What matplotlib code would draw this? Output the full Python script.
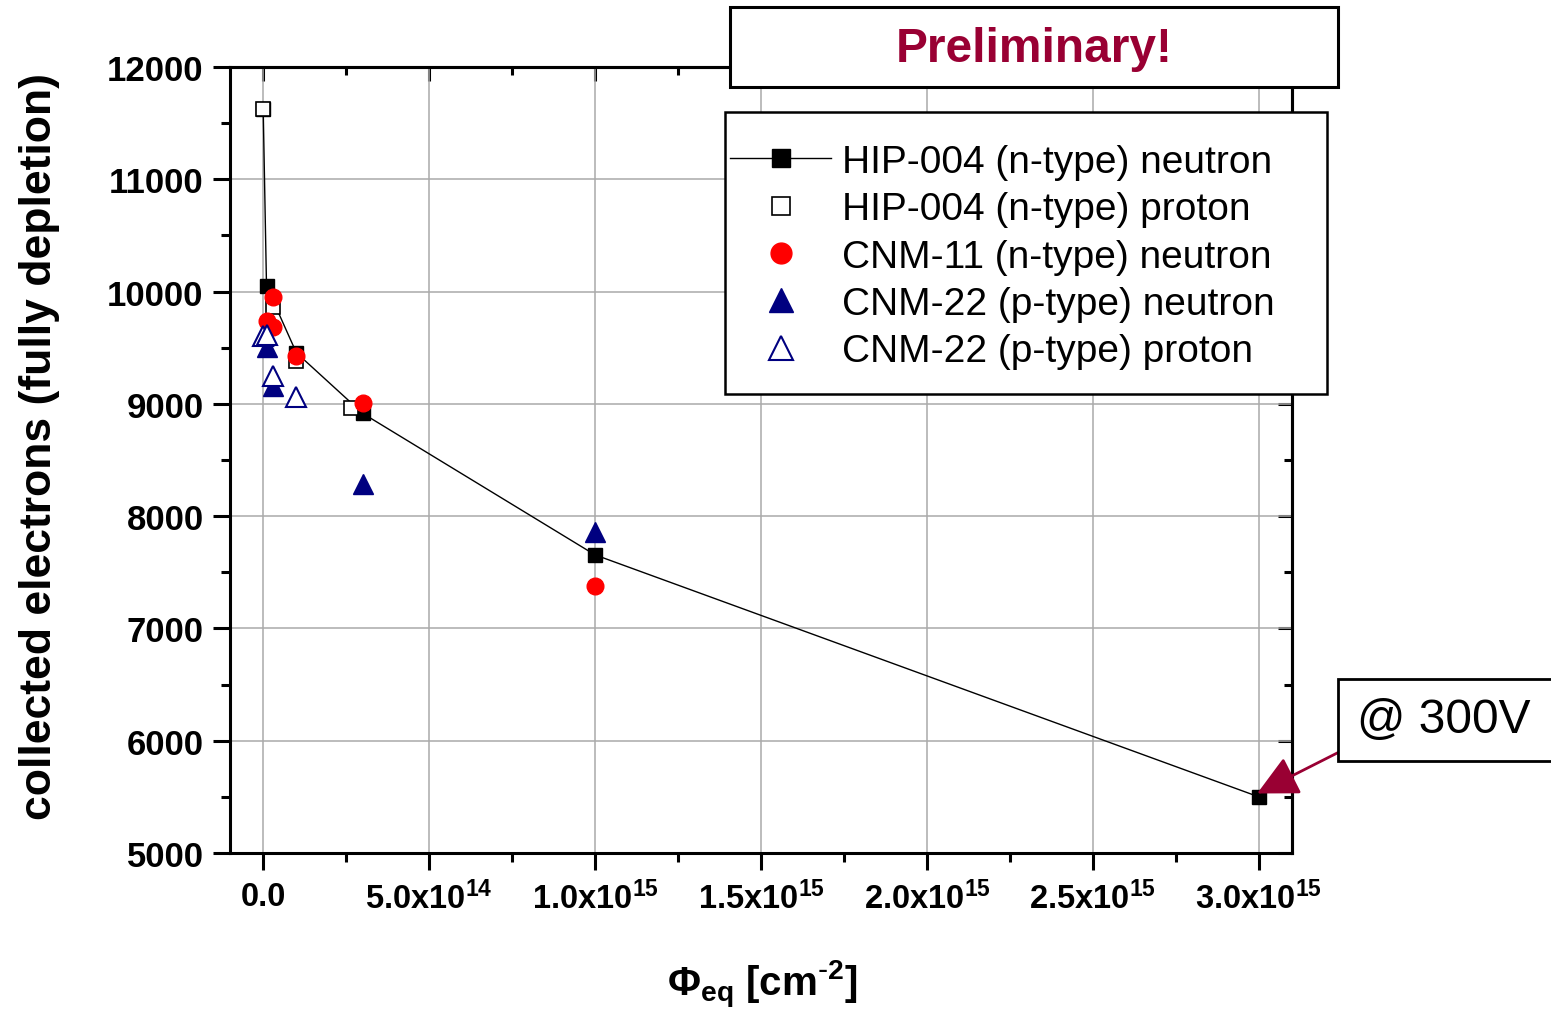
import matplotlib

matplotlib.use('Agg')
import matplotlib.pyplot as plt
from matplotlib.patches import Rectangle
from matplotlib.ticker import MultipleLocator

plt.rcParams['font.family'] = ['Liberation Sans', 'DejaVu Sans']
plt.rcParams['mathtext.default'] = 'regular'

# HIP-004 (n-type), neutron irradiated (joined by a line)
hip_n_fluence = [0, 1e13, 1e14, 3e14, 1e15, 3e15]
hip_n_charge = [11630, 10050, 9455, 8915, 7655, 5500]

# HIP-004 (n-type), proton irradiated
hip_p_fluence = [0, 3e13, 1e14, 2.65e14]
hip_p_charge = [11630, 9866, 9380, 8960]

# CNM-11 (n-type), neutron irradiated
cnm11_n_fluence = [1e13, 3e13, 3e13, 1e14, 3e14, 1e15]
cnm11_n_charge = [9735, 9950, 9682, 9430, 9008, 7378]

# CNM-22 (p-type), neutron irradiated
cnm22_n_fluence = [1e13, 3e13, 3e14, 1e15]
cnm22_n_charge = [9505, 9155, 8285, 7862]

# CNM-22 (p-type), proton irradiated
cnm22_p_fluence = [0, 1e13, 3e13, 1e14]
cnm22_p_charge = [9600, 9615, 9245, 9060]

x_ticks = [0, 5e14, 1e15, 1.5e15, 2e15, 2.5e15, 3e15]
x_tick_labels = ['0.0', '5.0x10$^{14}$', '1.0x10$^{15}$', '1.5x10$^{15}$',
                 '2.0x10$^{15}$', '2.5x10$^{15}$', '3.0x10$^{15}$']
y_ticks = [5000, 6000, 7000, 8000, 9000, 10000, 11000, 12000]

W, H = 1551, 1020
fig = plt.figure(figsize=(W / 100, H / 100), dpi=100)
ax = fig.add_axes([230 / W, 1 - 854 / H, (1292 - 230) / W, (854 - 68) / H])

ax.plot(hip_n_fluence, hip_n_charge, color='black', lw=1.0, marker='s',
        markersize=10, markerfacecolor='black', markeredgecolor='black',
        label='HIP-004 (n-type) neutron', zorder=3)
ax.plot(hip_p_fluence, hip_p_charge, ls='none', marker='s', markersize=10,
        markerfacecolor='white', markeredgecolor='black', markeredgewidth=1.2,
        label='HIP-004 (n-type) proton', zorder=4)
ax.plot(cnm11_n_fluence, cnm11_n_charge, ls='none', marker='o', markersize=12,
        markerfacecolor='red', markeredgecolor='red',
        label='CNM-11 (n-type) neutron', zorder=5)
ax.plot(cnm22_n_fluence, cnm22_n_charge, ls='none', marker='^', markersize=14,
        markerfacecolor='#000080', markeredgecolor='#000080',
        label='CNM-22 (p-type) neutron', zorder=5)
ax.plot(cnm22_p_fluence, cnm22_p_charge, ls='none', marker='^', markersize=14,
        markerfacecolor='white', markeredgecolor='#000080', markeredgewidth=1.5,
        label='CNM-22 (p-type) proton', zorder=5)

ax.set_xlim(-1e14, 3.1e15)
ax.set_ylim(5000, 12000)
ax.set_xticks(x_ticks)
ax.set_xticklabels(x_tick_labels)
ax.set_yticks(y_ticks)
ax.xaxis.set_minor_locator(MultipleLocator(2.5e14))
ax.yaxis.set_minor_locator(MultipleLocator(500))
ax.grid(True, which='major', color='#aaaaaa', lw=1.1)
ax.set_axisbelow(True)

for s in ax.spines.values():
    s.set_linewidth(2.2)
ax.tick_params(which='major', direction='out', length=12, width=2.2, pad=8)
ax.tick_params(which='minor', direction='out', length=6.5, width=2.2)
ax.tick_params(axis='x', labelsize=23.5)
ax.tick_params(axis='y', labelsize=25, pad=7)
for lab in ax.get_xticklabels() + ax.get_yticklabels():
    lab.set_fontweight('bold')

# top and right ticks point inwards
top = ax.secondary_xaxis('top')
top.set_xticks(x_ticks)
top.xaxis.set_minor_locator(MultipleLocator(2.5e14))
top.tick_params(which='major', direction='in', length=10, width=2.2, labeltop=False)
top.tick_params(which='minor', direction='in', length=6, width=2.2)
right = ax.secondary_yaxis('right')
right.set_yticks(y_ticks)
right.yaxis.set_minor_locator(MultipleLocator(500))
right.tick_params(which='major', direction='in', length=10, width=2.2, labelright=False)
right.tick_params(which='minor', direction='in', length=6, width=2.2)
for sec in (top, right):
    for s in sec.spines.values():
        s.set_linewidth(2.2)

fig.text(40 / W, 1 - 447 / H, 'collected electrons (fully depletion)',
         rotation=90, ha='center', va='center', fontsize=32, fontweight='bold')
fig.text(762 / W, 1 - 985 / H, r'$\Phi_{eq}$ [cm$^{\text{-}2}$]',
         ha='center', va='center', fontsize=29, fontweight='bold')

# legend box drawn separately so its padding can be set freely
fig.patches.append(Rectangle((725 / W, 1 - 395 / H), 602 / W, 282 / H,
                             transform=fig.transFigure, facecolor='white',
                             edgecolor='black', lw=1.8, zorder=20))
handles, labels = ax.get_legend_handles_labels()
leg = fig.legend(handles, labels, loc='upper left',
                 bbox_to_anchor=(730 / W, 1 - 145 / H), fontsize=28,
                 frameon=False, markerscale=1.25, handlelength=2.6,
                 handletextpad=0.28, labelspacing=0.29, borderpad=0,
                 borderaxespad=0)
leg.set_zorder(21)

# "Preliminary!" banner
fig.patches.append(Rectangle((730 / W, 1 - 88 / H), 608 / W, 80 / H,
                             transform=fig.transFigure, facecolor='white',
                             edgecolor='black', lw=2.2, zorder=20))
fig.text(1034 / W, 1 - 50 / H, 'Preliminary!', ha='center', va='center',
         fontsize=34.5, fontweight='bold', color='#990033', zorder=21)

# bias voltage note with arrow
fig.patches.append(Rectangle((1338 / W, 1 - 762 / H), 0.2, 82 / H,
                             transform=fig.transFigure, facecolor='white',
                             edgecolor='black', lw=2.0, zorder=20))
fig.text(1357 / W, 1 - 721 / H, '@ 300V', ha='left', va='center',
         fontsize=34.5, zorder=21)
ax.annotate('', xy=(2.995e15, 5530), xycoords='data',
            xytext=(1355 / W, 1 - 745 / H), textcoords='figure fraction',
            arrowprops=dict(arrowstyle='-|>,head_length=0.9,head_width=0.45',
                            color='#990033', lw=2, mutation_scale=28,
                            shrinkA=0, shrinkB=0),
            annotation_clip=False, zorder=22)

fig.savefig('out.png', dpi=100)
